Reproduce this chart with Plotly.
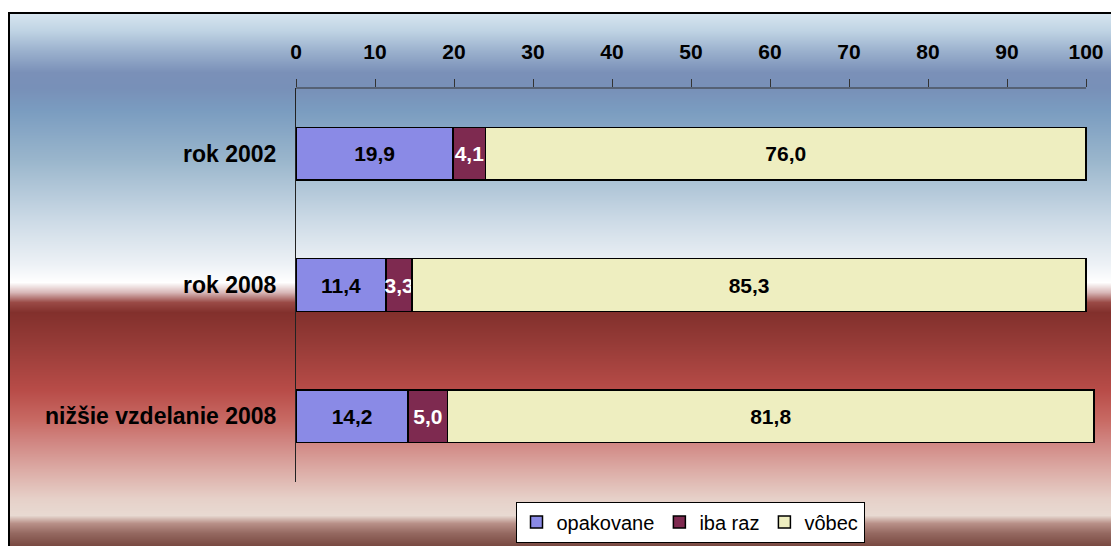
import base64, struct, zlib
import plotly.graph_objects as go

categories = ["rok 2002", "rok 2008", "nižšie vzdelanie 2008"]
opakovane = [19.9, 11.4, 14.2]
iba_raz = [4.1, 3.3, 5.0]
vobec = [76.0, 85.3, 81.8]
tick_vals = [0, 10, 20, 30, 40, 50, 60, 70, 80, 90, 100]

W, H = 1111, 546

def fmt(v):
    return f"{v:.1f}".replace(".", ",")

# vertical background gradient (pixel row -> colour)
stops = [
    (12, "#d8e6f0"), (30, "#c0d4e4"), (50, "#9cb2ce"), (72, "#7a90b8"),
    (88, "#7890b8"), (110, "#7a9cc0"), (160, "#9ab6cc"), (220, "#ccdae6"),
    (265, "#eef2f6"), (282, "#ffffff"), (292, "#d8b8b8"), (302, "#9a4a46"),
    (312, "#82302c"), (340, "#943a36"), (390, "#b84c48"), (420, "#c86a64"),
    (440, "#d08480"), (470, "#dcaca6"), (498, "#e6d0c8"), (515, "#e8dad2"),
    (523, "#b89088"), (533, "#946860"), (546, "#784840"),
]

def hx(c):
    return tuple(int(c[i:i + 2], 16) for i in (1, 3, 5))

def colour_at(y):
    for (y0, c0), (y1, c1) in zip(stops, stops[1:]):
        if y0 <= y <= y1:
            t = (y - y0) / (y1 - y0) if y1 > y0 else 0
            a, b = hx(c0), hx(c1)
            return tuple(int(round(a[k] + (b[k] - a[k]) * t)) for k in range(3))
    return hx(stops[-1][1])

top_page = 12
rows = H - top_page
imgw = 4
raw = b""
for r in range(rows):
    col = colour_at(top_page + r)
    raw += b"\x00" + bytes(col) * imgw

def chunk(tag, data):
    c = struct.pack(">I", len(data)) + tag + data
    return c + struct.pack(">I", zlib.crc32(tag + data) & 0xffffffff)

png = b"\x89PNG\r\n\x1a\n" + chunk(b"IHDR", struct.pack(">IIBBBBB", imgw, rows, 8, 2, 0, 0, 0)) \
    + chunk(b"IDAT", zlib.compress(raw)) + chunk(b"IEND", b"")
uri = "data:image/png;base64," + base64.b64encode(png).decode()

def px(x):
    return x / W

def py(y):
    return 1 - y / H

FONT = "Liberation Sans, Arial"

# x scale: 0 at pixel 296, 100 at pixel 1086; range a bit past 100 so the
# third bar (sum 101) is not clipped
X_MAX = 101.3
x_right_px = 296 + (1086 - 296) * X_MAX / 100

fig = go.Figure()
series = [
    ("opakovane", opakovane, "#8a8ae6", "black"),
    ("iba raz", iba_raz, "#7e2a50", "white"),
    ("vôbec", vobec, "#eeeec0", "black"),
]
for name, vals, color, tcol in series:
    fig.add_trace(go.Bar(
        name=name, y=categories, x=vals, orientation="h",
        marker=dict(color=color, line=dict(color="black", width=1.5)),
        width=0.40,
        text=[fmt(v) for v in vals], textposition="inside", textangle=0,
        insidetextanchor="middle", constraintext="none",
        textfont=dict(family=FONT, size=21, color=tcol, weight="bold"),
        cliponaxis=False,
    ))

fig.update_layout(
    width=W, height=H,
    margin=dict(l=0, r=0, t=0, b=0),
    barmode="stack",
    paper_bgcolor="white",
    plot_bgcolor="rgba(0,0,0,0)",
    font=dict(family=FONT, color="black"),
    showlegend=True,
    legend=dict(
        orientation="h", x=px(690), y=py(522), xanchor="center", yanchor="middle",
        bgcolor="white", bordercolor="black", borderwidth=1,
        font=dict(size=20, family=FONT),
        traceorder="normal", itemwidth=30, tracegroupgap=0,
    ),
    images=[dict(
        source=uri, xref="paper", yref="paper", x=px(8), y=py(12),
        sizex=1 - px(8), sizey=py(12), sizing="stretch",
        xanchor="left", yanchor="top", layer="below",
    )],
    shapes=[
        dict(type="rect", xref="paper", yref="paper", x0=px(9), x1=1.01, y0=-0.01, y1=py(13),
             line=dict(color="black", width=2), fillcolor="rgba(0,0,0,0)", layer="above"),
        dict(type="line", xref="x", yref="paper", x0=0, x1=100, y0=py(88), y1=py(88),
             line=dict(color="#333333", width=1), layer="above"),
    ],
    xaxis=dict(
        domain=[px(296), px(x_right_px)], range=[0, X_MAX], side="top",
        tickvals=tick_vals, ticktext=[str(t) for t in tick_vals],
        ticks="outside", ticklen=8, tickcolor="#333333", tickwidth=1,
        showline=False,
        showgrid=False, zeroline=False, automargin=False,
        tickfont=dict(size=21, family=FONT, weight="bold"),
        ticklabelstandoff=12,
    ),
    yaxis=dict(
        domain=[py(482), py(88)], autorange="reversed",
        showline=True, linecolor="#222222", linewidth=1,
        showgrid=False, zeroline=False, ticks="", automargin=False,
        tickfont=dict(size=23, family=FONT, weight="bold"),
        ticklabelstandoff=14,
    ),
)

fig.write_html(
    "out.html",
    config={"displayModeBar": False},
    post_script="document.body.style.margin='0';document.body.style.overflow='hidden';",
)
